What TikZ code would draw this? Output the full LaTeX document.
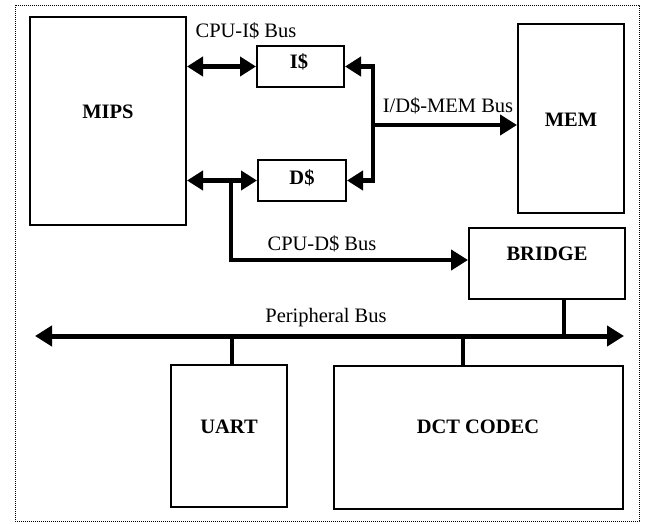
\documentclass[tikz,border=0pt]{standalone}
\usepackage{fontspec}
\setmainfont{Liberation Serif}
\usetikzlibrary{arrows.meta}
\begin{document}
\begin{tikzpicture}[x=1pt,y=-1pt,
  font=\fontsize{20.5}{24}\selectfont,
  box/.style={draw,line width=2pt,inner sep=0pt,fill=white},
  lbl/.style={anchor=base,inner sep=0pt},
  blbl/.style={anchor=base,inner sep=0pt,font=\fontsize{20.5}{24}\selectfont\bfseries},
  bus/.style={line width=5pt},
  thin bus/.style={line width=4.2pt},
  conn/.style={line width=4.5pt},
  tip/.tip={Triangle[length=17pt,width=20pt]},
  stip/.tip={Triangle[length=16pt,width=19pt]}]
\fill[white] (0,0) rectangle (646,523);
\useasboundingbox (0,0) rectangle (646,523);
\draw[line width=0.9pt,dash pattern=on 0.9pt off 1.1pt] (15,5) rectangle (639,521);

% boxes
\node[box,minimum width=156pt,minimum height=208pt] (mips) at (108,121) {};
\node[box,minimum width=87pt,minimum height=41pt] (icache) at (300.5,66.5) {};
\node[box,minimum width=88pt,minimum height=41pt] (dcache) at (302,180.5) {};
\node[box,minimum width=106pt,minimum height=189pt] (mem) at (571,118.5) {};
\node[box,minimum width=156pt,minimum height=71pt] (bridge) at (547,263.5) {};
\node[box,minimum width=116pt,minimum height=142pt] (uart) at (229,436) {};
\node[box,minimum width=289pt,minimum height=143pt] (dct) at (478.5,437.5) {};

% box labels
\node[blbl] (mipsT) at (108,118) {MIPS};
\node[blbl] (icacheT) at (299,68) {I\$};
\node[blbl] (dcacheT) at (302,184) {D\$};
\node[blbl] (memT) at (571,126) {MEM};
\node[blbl] (bridgeT) at (547,260) {BRIDGE};
\node[blbl] (uartT) at (229,433) {UART};
\node[blbl] (dctT) at (478,433) {DCT CODEC};

% bus labels
\node[lbl] (cpuiT) at (246,37) {CPU-I\$ Bus};
\node[lbl] (memBusT) at (448,112) {I/D\$-MEM Bus};
\node[lbl] (cpudT) at (322,250) {CPU-D\$ Bus};
\node[lbl] (perT) at (326,322) {Peripheral Bus};

% CPU - caches
\draw[thin bus,stip-stip] (mips.east |- icache.west) -- (icache.west);
\draw[thin bus,stip-stip] (mips.east |- dcache.west) -- (dcache.west);

% CPU-D$ branch to bridge
\coordinate (jd) at (231,180.5);
\draw[thin bus,line join=miter,-tip] (jd) |- ([yshift=3.5pt]bridge.west);

% I/D$-MEM bus
\coordinate (vx) at (373,125);
\draw[thin bus,line join=miter,stip-stip] (icache.east) -- (icache.east -| vx) -- (dcache.east -| vx) -- (dcache.east);
\draw[thin bus,-tip] (vx) -- (vx -| mem.west);

% peripheral bus
\coordinate (pl) at (35,336);
\coordinate (pr) at (624,336);
\draw[bus,tip-tip] (pl) -- (pr);

% peripheral connectors
\coordinate (bc) at ([xshift=17pt]bridge.south);
\draw[conn] (bc) -- (bc |- pl);
\coordinate (uc) at ([xshift=3pt]uart.north);
\draw[conn] (uc) -- (uc |- pl);
\coordinate (dc) at ([xshift=-15.5pt]dct.north);
\draw[conn] (dc) -- (dc |- pl);
\end{tikzpicture}
\end{document}
